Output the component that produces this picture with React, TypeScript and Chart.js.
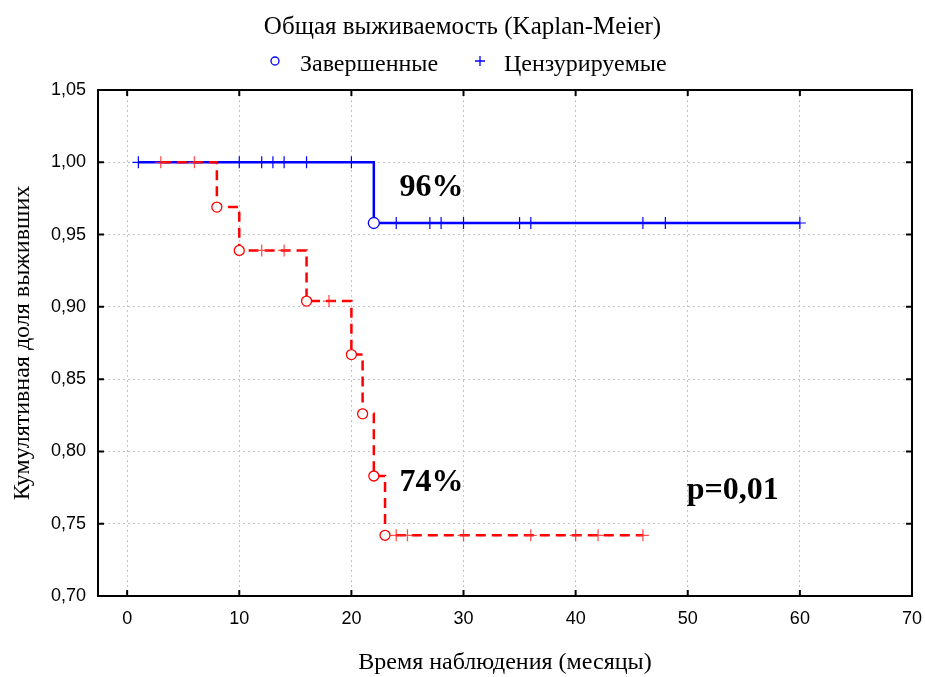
import React, { useEffect, useRef } from "react";
import { Chart, registerables } from "chart.js";

Chart.register(...registerables);

// ---- data ----
const xTickValues = [0, 10, 20, 30, 40, 50, 60, 70];
const yTickValues = [0.7, 0.75, 0.8, 0.85, 0.9, 0.95, 1.0, 1.05];

const blueStart = 1;
const blueEnd = 60;
const blueEventTimes = [22];
const blueEventSurv = [0.958];
const blueCensorTimes = [1, 10, 12, 13, 14, 16, 20, 24, 27, 28, 30, 35, 36, 46, 48, 60];

const redStart = 3;
const redEnd = 46;
const redEventTimes = [8, 10, 16, 20, 21, 22, 23];
const redEventSurv = [0.969, 0.939, 0.904, 0.867, 0.826, 0.783, 0.742];
const redCensorTimes = [3, 6, 12, 14, 18, 24, 25, 30, 36, 40, 42, 46];

const titleText = "Общая выживаемость (Kaplan-Meier)";
const legendLabels = ["Завершенные", "Цензурируемые"];
const xTitle = "Время наблюдения (месяцы)";
const yTitle = "Кумулятивная доля выживших";

// annotation texts (positions in data units)
const annotations = [
  { text: "96%", x: 24.3, y: 0.9767 },
  { text: "74%", x: 24.3, y: 0.7726 },
  { text: "p=0,01", x: 49.9, y: 0.767 },
];

const SERIF = "'Liberation Serif', 'DejaVu Serif', serif";
const SANS = "'Liberation Sans', Arial, sans-serif";

function survAt(t: number, times: number[], surv: number[]) {
  let s = 1;
  for (let i = 0; i < times.length; i++) if (times[i] <= t) s = surv[i];
  return s;
}

function stepPoints(start: number, end: number, times: number[], surv: number[]) {
  const pts = [{ x: start, y: 1 }];
  times.forEach((t, i) => pts.push({ x: t, y: surv[i] }));
  pts.push({ x: end, y: survAt(end, times, surv) });
  return pts;
}

const decorPlugin = {
  id: "decor",
  beforeDraw(chart: any) {
    const ctx = chart.ctx;
    ctx.save();
    ctx.fillStyle = "#fff";
    ctx.fillRect(0, 0, chart.width, chart.height);
    ctx.restore();
  },
  afterDatasetsDraw(chart: any) {
    const ctx = chart.ctx;
    const { left, right, top, bottom } = chart.chartArea;
    const xs = chart.scales.x;
    const ys = chart.scales.y;
    ctx.save();
    // frame
    ctx.strokeStyle = "#000";
    ctx.lineWidth = 2;
    ctx.setLineDash([]);
    ctx.strokeRect(left, top, right - left, bottom - top);
    // inward ticks
    const tl = 6;
    ctx.beginPath();
    xTickValues.forEach((v) => {
      const px = xs.getPixelForValue(v);
      ctx.moveTo(px, bottom);
      ctx.lineTo(px, bottom - tl);
      ctx.moveTo(px, top);
      ctx.lineTo(px, top + tl);
    });
    yTickValues.forEach((v) => {
      const py = ys.getPixelForValue(v);
      ctx.moveTo(left, py);
      ctx.lineTo(left + tl, py);
      ctx.moveTo(right, py);
      ctx.lineTo(right - tl, py);
    });
    ctx.stroke();

    // annotations
    ctx.fillStyle = "#000";
    ctx.font = `bold 32px ${SERIF}`;
    ctx.textAlign = "left";
    ctx.textBaseline = "alphabetic";
    annotations.forEach((a) => {
      ctx.fillText(a.text, xs.getPixelForValue(a.x), ys.getPixelForValue(a.y));
    });

    // title
    ctx.font = `25px ${SERIF}`;
    ctx.textAlign = "center";
    ctx.fillText(titleText, chart.width / 2, 34);

    // legend
    ctx.font = `24px ${SERIF}`;
    ctx.textAlign = "left";
    ctx.fillText(legendLabels[0], 300, 71);
    ctx.fillText(legendLabels[1], 504, 71);
    ctx.strokeStyle = "#0000ff";
    ctx.lineWidth = 1.3;
    ctx.beginPath();
    ctx.arc(275, 61, 4, 0, Math.PI * 2);
    ctx.stroke();
    ctx.beginPath();
    ctx.moveTo(475, 61);
    ctx.lineTo(485, 61);
    ctx.moveTo(480, 56);
    ctx.lineTo(480, 66);
    ctx.stroke();
    ctx.restore();
  },
};

export default function App() {
  const ref = useRef<HTMLCanvasElement | null>(null);

  useEffect(() => {
    document.body.style.margin = "0";
    if (!ref.current) return;

    const blueLine = stepPoints(blueStart, blueEnd, blueEventTimes, blueEventSurv);
    const redLine = stepPoints(redStart, redEnd, redEventTimes, redEventSurv);
    const blueEvents = blueEventTimes.map((t, i) => ({ x: t, y: blueEventSurv[i] }));
    const redEvents = redEventTimes.map((t, i) => ({ x: t, y: redEventSurv[i] }));
    const blueCens = blueCensorTimes.map((t) => ({ x: t, y: survAt(t, blueEventTimes, blueEventSurv) }));
    const redCens = redCensorTimes.map((t) => ({ x: t, y: survAt(t, redEventTimes, redEventSurv) }));

    const chart = new Chart(ref.current, {
      type: "scatter",
      data: {
        datasets: [
          {
            label: "red events",
            data: redEvents,
            pointStyle: "circle",
            pointRadius: 5,
            pointBackgroundColor: "#fff",
            pointBorderColor: "#ff0000",
            pointBorderWidth: 1.3,
            showLine: false,
          },
          {
            label: "red censored",
            data: redCens,
            pointStyle: "cross",
            pointRadius: 6,
            pointBorderColor: "rgba(255,40,40,0.8)",
            pointBorderWidth: 1.3,
            showLine: false,
          },
          {
            label: "red line",
            data: redLine,
            showLine: true,
            stepped: "before",
            borderColor: "#ff0000",
            borderWidth: 2.5,
            borderDash: [10, 6],
            pointRadius: 0,
            fill: false,
          },
          {
            label: "blue events",
            data: blueEvents,
            pointStyle: "circle",
            pointRadius: 5.5,
            pointBackgroundColor: "#fff",
            pointBorderColor: "#0000ff",
            pointBorderWidth: 1.3,
            showLine: false,
          },
          {
            label: "blue censored",
            data: blueCens,
            pointStyle: "cross",
            pointRadius: 6,
            pointBorderColor: "#0000ff",
            pointBorderWidth: 1.2,
            showLine: false,
          },
          {
            label: "blue line",
            data: blueLine,
            showLine: true,
            stepped: "before",
            borderColor: "#0000ff",
            borderWidth: 2.5,
            pointRadius: 0,
            fill: false,
          },
        ],
      },
      options: {
        animation: false,
        responsive: false,
        events: [],
        layout: { padding: { top: 90, right: 13, left: 0, bottom: 0 } },
        plugins: {
          legend: { display: false },
          title: { display: false },
          tooltip: { enabled: false },
        },
        scales: {
          x: {
            type: "linear",
            min: -2.6,
            max: 70,
            afterBuildTicks: (s: any) => {
              s.ticks = xTickValues.map((v) => ({ value: v }));
            },
            afterFit: (s: any) => {
              s.height = 81;
              s.paddingLeft = 0;
              s.paddingRight = 0;
            },
            grid: { color: "#c4c4c4", lineWidth: 1, drawTicks: false },
            border: { display: false, dash: [2, 3] },
            ticks: {
              color: "#000",
              font: { family: SANS, size: 18 },
              padding: 12,
              maxRotation: 0,
              callback: (v: any) => String(v),
            },
            title: {
              display: true,
              text: xTitle,
              color: "#000",
              font: { family: SERIF, size: 24 },
              padding: { top: 0, bottom: 0 },
            },
          },
          y: {
            type: "linear",
            min: 0.7,
            max: 1.05,
            afterBuildTicks: (s: any) => {
              s.ticks = yTickValues.map((v) => ({ value: v }));
            },
            afterFit: (s: any) => {
              s.width = 98;
              s.paddingTop = 0;
              s.paddingBottom = 0;
            },
            grid: { color: "#c4c4c4", lineWidth: 1, drawTicks: false },
            border: { display: false, dash: [2, 3] },
            ticks: {
              color: "#000",
              font: { family: SANS, size: 18 },
              padding: 12,
              callback: (v: any) => Number(v).toFixed(2).replace(".", ","),
            },
            title: {
              display: true,
              text: yTitle,
              color: "#000",
              font: { family: SERIF, size: 24 },
              padding: { top: 8, bottom: 0 },
            },
          },
        },
      },
      plugins: [decorPlugin],
    } as any);

    return () => chart.destroy();
  }, []);

  return (
    <div style={{ width: 925, height: 677 }}>
      <canvas ref={ref} width={925} height={677} style={{ width: 925, height: 677, display: "block" }} />
    </div>
  );
}
